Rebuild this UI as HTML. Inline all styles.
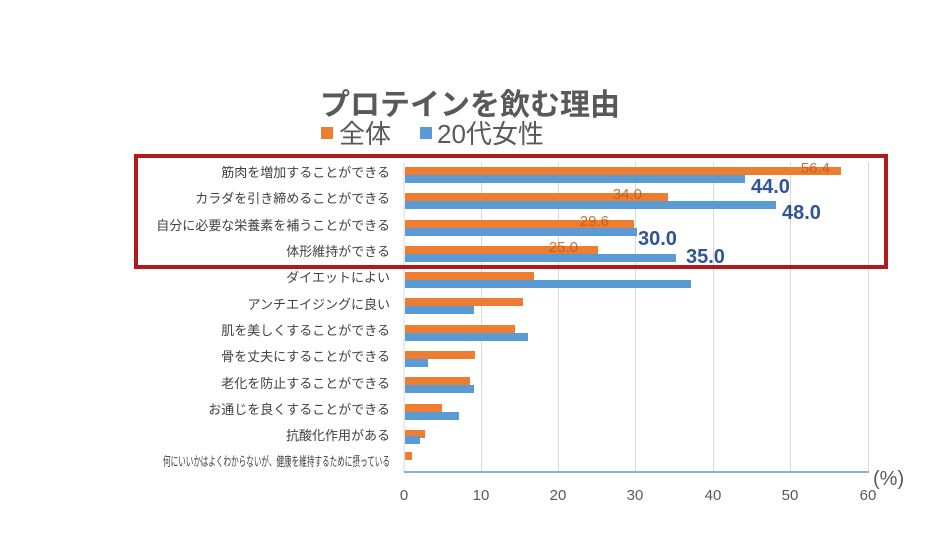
<!DOCTYPE html>
<html><head><meta charset="utf-8"><style>
body{margin:0;background:#fff;}
svg{display:block;font-family:"Liberation Sans","Noto Sans CJK JP",sans-serif;}
</style></head><body>
<svg width="940" height="549" viewBox="0 0 940 549">
<rect width="940" height="549" fill="#fff"/>
<text x="470" y="115" text-anchor="middle" font-size="30" font-weight="bold" fill="#595959" textLength="300" lengthAdjust="spacingAndGlyphs">プロテインを飲む理由</text>
<rect x="321" y="127" width="12" height="12" fill="#ed7d31"/>
<text x="339" y="143" font-size="26" fill="#595959">全体</text>
<rect x="420" y="127" width="12" height="12" fill="#5b9bd5"/>
<text x="437" y="143" font-size="26" fill="#595959">20代女性</text>
<g stroke="#d9d9d9" stroke-width="1">
<line x1="481.5" y1="162" x2="481.5" y2="472"/>
<line x1="558.5" y1="162" x2="558.5" y2="472"/>
<line x1="635.5" y1="162" x2="635.5" y2="472"/>
<line x1="713.5" y1="162" x2="713.5" y2="472"/>
<line x1="790.5" y1="162" x2="790.5" y2="472"/>
<line x1="868.5" y1="162" x2="868.5" y2="472"/>
</g>
<line x1="404" y1="162" x2="404" y2="472" stroke="#d9d9d9"/>
<line x1="404" y1="472" x2="869" y2="472" stroke="#5b9bd5" stroke-width="1.5"/>
<g font-size="13" fill="#404040" text-anchor="end">
<text x="390" y="177">筋肉を増加することができる</text>
<text x="390" y="203">カラダを引き締めることができる</text>
<text x="390" y="230">自分に必要な栄養素を補うことができる</text>
<text x="390" y="256">体形維持ができる</text>
<text x="390" y="282">ダイエットによい</text>
<text x="390" y="309">アンチエイジングに良い</text>
<text x="390" y="335">肌を美しくすることができる</text>
<text x="390" y="361">骨を丈夫にすることができる</text>
<text x="390" y="388">老化を防止することができる</text>
<text x="390" y="414">お通じを良くすることができる</text>
<text x="390" y="440">抗酸化作用がある</text>
</g>
<text x="163" y="466" font-size="13" fill="#404040" textLength="227" lengthAdjust="spacingAndGlyphs">何にいいかはよくわからないが、健康を維持するために摂っている</text>
<g fill="#ed7d31">
<rect x="405" y="167" width="436" height="8"/>
<rect x="405" y="193" width="263" height="8"/>
<rect x="405" y="220" width="229" height="8"/>
<rect x="405" y="246" width="193" height="8"/>
<rect x="405" y="272" width="129" height="8"/>
<rect x="405" y="298" width="118" height="8"/>
<rect x="405" y="325" width="110" height="8"/>
<rect x="405" y="351" width="70" height="8"/>
<rect x="405" y="377" width="65" height="8"/>
<rect x="405" y="404" width="37" height="8"/>
<rect x="405" y="430" width="20" height="8"/>
<rect x="405" y="452" width="7" height="8"/>
</g>
<g fill="#5b9bd5">
<rect x="405" y="175" width="340" height="8"/>
<rect x="405" y="201" width="371" height="8"/>
<rect x="405" y="228" width="232" height="8"/>
<rect x="405" y="254" width="271" height="8"/>
<rect x="405" y="280" width="286" height="8"/>
<rect x="405" y="306" width="69" height="8"/>
<rect x="405" y="333" width="123" height="8"/>
<rect x="405" y="359" width="23" height="8"/>
<rect x="405" y="385" width="69" height="8"/>
<rect x="405" y="412" width="54" height="8"/>
<rect x="405" y="436" width="15" height="8"/>
</g>
<g font-size="15" fill="#c55a11" text-anchor="end" opacity="0.85">
<text x="830" y="173">56.4</text>
<text x="642" y="199">34.0</text>
<text x="609" y="226">29.6</text>
<text x="578" y="252">25.0</text>
</g>
<g font-size="20" font-weight="bold" fill="#2f5597">
<text x="751" y="193">44.0</text>
<text x="782" y="219">48.0</text>
<text x="638" y="245">30.0</text>
<text x="686" y="263">35.0</text>
</g>
<rect x="136" y="156" width="750" height="111" fill="none" stroke="#b01a1a" stroke-width="4"/>
<g font-size="15" fill="#595959" text-anchor="middle">
<text x="404" y="500">0</text>
<text x="481" y="500">10</text>
<text x="558" y="500">20</text>
<text x="635" y="500">30</text>
<text x="713" y="500">40</text>
<text x="790" y="500">50</text>
<text x="868" y="500">60</text>
</g>
<text x="873" y="485" font-size="20" fill="#595959">(%)</text>
</svg>
</body></html>
